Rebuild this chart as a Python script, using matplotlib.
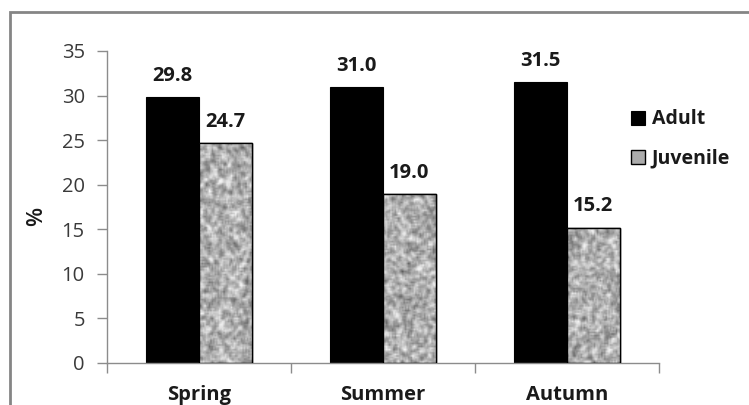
import numpy as np
import matplotlib
matplotlib.use("Agg")
import matplotlib.pyplot as plt
from matplotlib.patches import Rectangle
from numpy.lib.stride_tricks import sliding_window_view

categories = ["Spring", "Summer", "Autumn"]
adult = [29.8, 31.0, 31.5]
juvenile = [24.7, 19.0, 15.2]
series_names = ["Adult", "Juvenile"]
yticks = [0, 5, 10, 15, 20, 25, 30, 35]

plt.rcParams['font.family'] = ['Open Sans', 'DejaVu Sans']

fig = plt.figure(figsize=(7.49, 4.05), dpi=100)
ax = fig.add_axes([107/749, 1-363/405, (659-107)/749, (363-51)/405])

x = np.arange(len(categories))
w = 0.286
b1 = ax.bar(x - w/2, adult, w, color='black', edgecolor='black', linewidth=0.8, label=series_names[0], zorder=2)
b2 = ax.bar(x + w/2, juvenile, w, color='#ababab', edgecolor='black', linewidth=1.0, label=series_names[1], zorder=2)

# granite-like texture for juvenile bars (visual style only)
rng = np.random.default_rng(3)
noise = rng.random((200, 380))
sm = sliding_window_view(np.pad(noise, 1, mode='edge'), (3, 3)).mean(axis=(2, 3))
sm = (sm - sm.min()) / (sm.max() - sm.min())
tex = np.clip(0.30 + 0.75 * sm, 0, 0.95)
for r in b2.patches:
    im = ax.imshow(tex, cmap='gray', vmin=0, vmax=1, extent=(-0.5, 2.5, 0, 35),
                   aspect='auto', interpolation='bilinear', zorder=2.5)
    im.set_clip_path(r)
    r2 = Rectangle(r.get_xy(), r.get_width(), r.get_height(), fill=False,
                   edgecolor='black', linewidth=1.0, zorder=3)
    ax.add_patch(r2)

for bars, vals in ((b1, adult), (b2, juvenile)):
    for r, v in zip(bars.patches, vals):
        ax.annotate(f"{v:.1f}", (r.get_x() + r.get_width()/2, v), xytext=(0, 8),
                    textcoords='offset points', ha='center', va='bottom',
                    fontsize=14.5, fontweight='bold', color='#1a1a1a')

ax.set_xlim(-0.5, 2.5)
ax.set_ylim(0, 35)
ax.set_yticks(yticks)
ax.set_yticklabels([str(t) for t in yticks], fontsize=14.5, color='#3a3a3a')
ax.set_xticks(x)
ax.set_xticklabels(categories, fontsize=14.5, fontweight='bold', color='#1a1a1a')
ax.tick_params(axis='x', length=0, pad=16)
ax.set_xticks([-0.5, 0.5, 1.5, 2.5], minor=True)
ax.tick_params(axis='x', which='minor', length=7, color='#8c8c8c', width=1)
ax.tick_params(axis='y', length=7, color='#8c8c8c', width=1, pad=9)
for s in ('top', 'right'):
    ax.spines[s].set_visible(False)
for s in ('left', 'bottom'):
    ax.spines[s].set_color('#8c8c8c')
    ax.spines[s].set_linewidth(1)
ax.set_ylabel('%', fontsize=16, fontweight='semibold', color='#1a1a1a')
ax.yaxis.set_label_coords(-0.108, 0.47)

leg = ax.legend(handles=[b1, b2], labels=series_names, loc='upper left',
                bbox_to_anchor=(613/749, 1-92/405), bbox_transform=fig.transFigure,
                frameon=False, prop={'weight': 'bold', 'size': 14},
                handlelength=0.75, handleheight=0.75, handletextpad=0.35, labelspacing=1.0)
for t in leg.get_texts():
    t.set_color('#1a1a1a')

fig.patches.append(Rectangle((10/749, -0.2), 1.2, (1-12/405) + 0.2, transform=fig.transFigure,
                             fill=False, edgecolor='#858585', linewidth=2, zorder=10))

fig.savefig('out.png', dpi=100)
